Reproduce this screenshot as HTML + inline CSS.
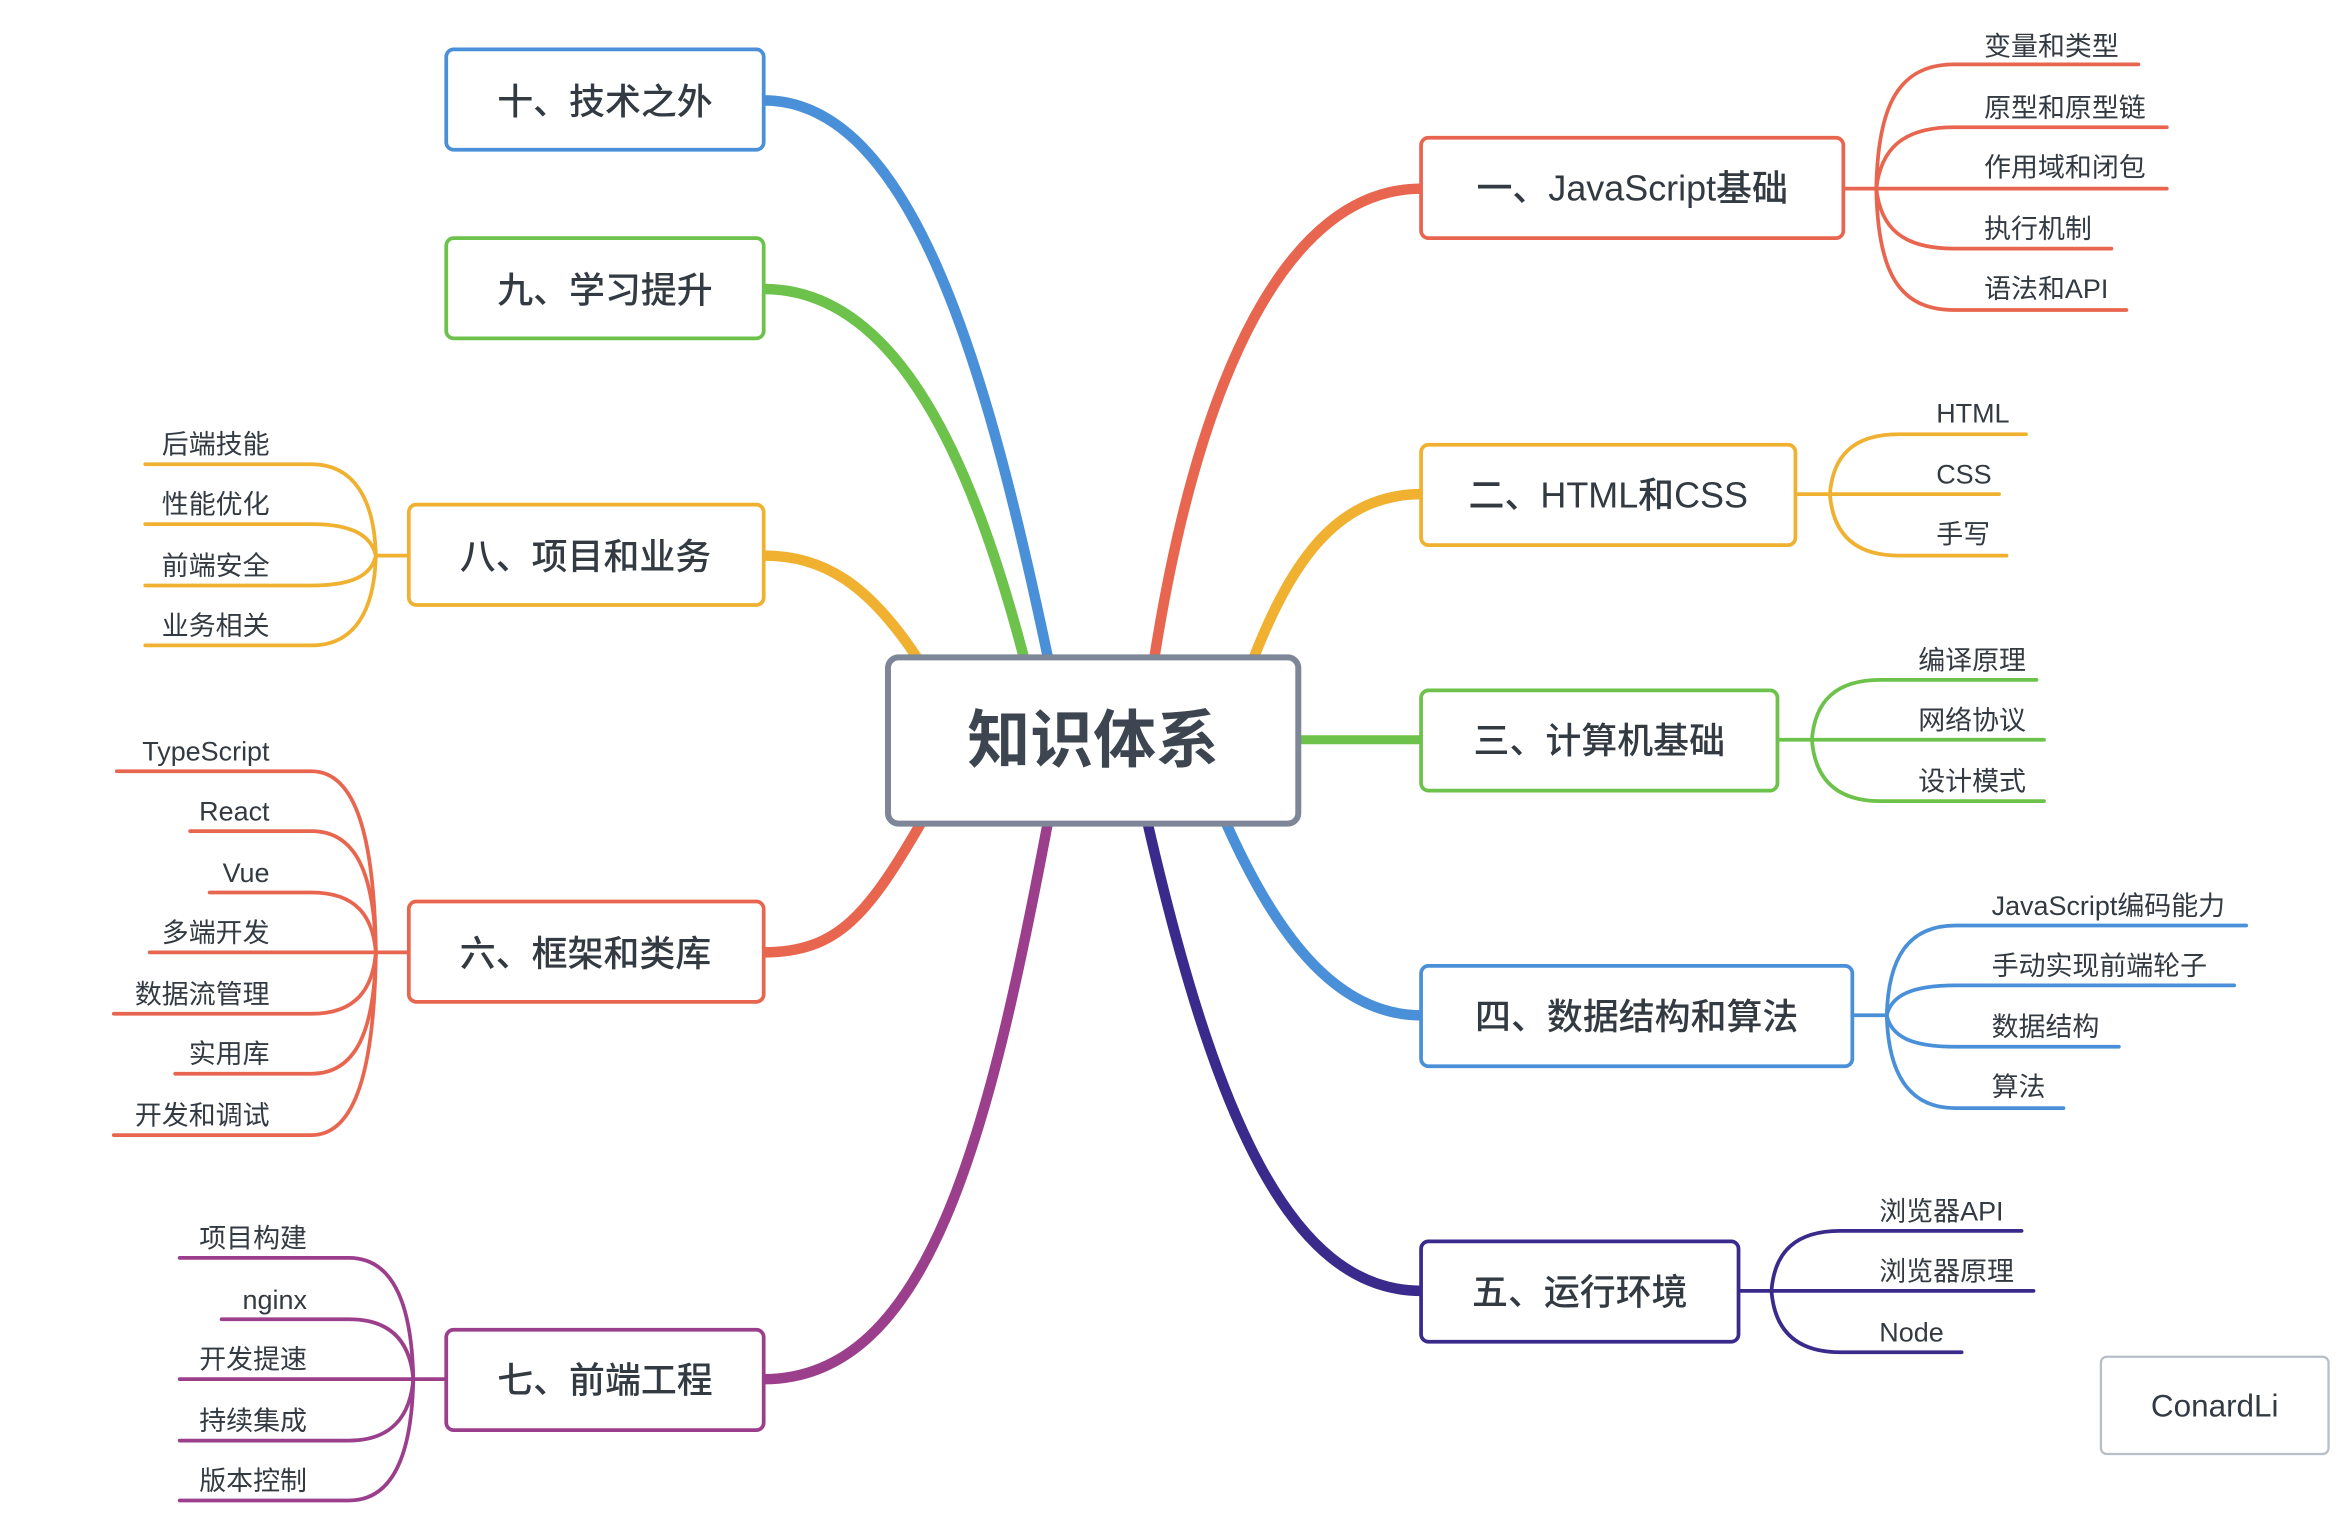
<!DOCTYPE html>
<html><head><meta charset="utf-8">
<style>
html,body{margin:0;padding:0;background:#fff;}
svg{display:block;}
text{font-family:"Liberation Sans","Noto Sans CJK SC",sans-serif;fill:#333a42;}
.sub{font-size:18px;}
.box{font-size:24px;font-weight:500;}
</style></head><body>
<svg width="2342" height="1518" viewBox="0 0 1564 1013.7" preserveAspectRatio="none" xmlns="http://www.w3.org/2000/svg">
<g fill="none" stroke-linecap="round">
<path d="M770 445 C800 250 860 126 949 126" stroke="#e8664f" stroke-width="7"/>
<path d="M835 445 C860 380 890 330 949 330" stroke="#f0b030" stroke-width="7"/>
<path d="M867 494 L949 494" stroke="#6cc24a" stroke-width="6"/>
<path d="M818 548 C850 620 890 678 949 678" stroke="#4a90d9" stroke-width="7"/>
<path d="M766 548 C810 740 860 862 949 862" stroke="#3a2a8c" stroke-width="7"/>
<path d="M616 548 C580 610 560 636 510 636" stroke="#e8664f" stroke-width="7"/>
<path d="M700 548 C660 760 620 921 510 921" stroke="#9b3f8c" stroke-width="7"/>
<path d="M613 440 C580 390 550 371 510 371" stroke="#f0b030" stroke-width="7"/>
<path d="M684 440 C650 310 600 193 510 193" stroke="#6cc24a" stroke-width="7"/>
<path d="M700 440 C660 250 610 67 510 67" stroke="#4a90d9" stroke-width="7"/>

<g stroke="#e8664f" stroke-width="2.5">
<path d="M1231 126 L1253 126"/>
<path d="M1253 126 C1254 70 1268 43 1305 43 L1428 43"/>
<path d="M1253 126 C1256 100 1270 85 1305 85 L1447 85"/>
<path d="M1253 126 L1447 126"/>
<path d="M1253 126 C1256 152 1270 166 1305 166 L1410 166"/>
<path d="M1253 126 C1254 182 1268 207 1305 207 L1420 207"/>
</g>
<g stroke="#f0b030" stroke-width="2.5">
<path d="M1199 330 L1222 330"/>
<path d="M1222 330 C1224 304 1238 290 1268 290 L1353 290"/>
<path d="M1222 330 L1335 330"/>
<path d="M1222 330 C1224 356 1238 371 1268 371 L1340 371"/>
</g>
<g stroke="#6cc24a" stroke-width="2.5">
<path d="M1187 494 L1210 494"/>
<path d="M1210 494 C1212 468 1226 454 1256 454 L1360 454"/>
<path d="M1210 494 L1365 494"/>
<path d="M1210 494 C1212 520 1226 535 1256 535 L1365 535"/>
</g>
<g stroke="#4a90d9" stroke-width="2.5">
<path d="M1237 678 L1260 678"/>
<path d="M1260 678 C1261 640 1274 618 1306 618 L1500 618"/>
<path d="M1260 678 C1263 665 1276 658 1306 658 L1492 658"/>
<path d="M1260 678 C1263 692 1276 699 1306 699 L1415 699"/>
<path d="M1260 678 C1261 716 1274 740 1306 740 L1378 740"/>
</g>
<g stroke="#3a2a8c" stroke-width="2.5">
<path d="M1161 862 L1183 862"/>
<path d="M1183 862 C1185 836 1199 822 1229 822 L1350 822"/>
<path d="M1183 862 L1358 862"/>
<path d="M1183 862 C1185 888 1199 903 1229 903 L1310 903"/>
</g>
<g stroke="#f0b030" stroke-width="2.5">
<path d="M273 371 L251 371"/>
<path d="M251 371 C250 333 236 310 208 310 L97 310"/>
<path d="M251 371 C248 358 236 350 208 350 L97 350"/>
<path d="M251 371 C248 384 236 391 208 391 L97 391"/>
<path d="M251 371 C250 409 236 431 208 431 L97 431"/>
</g>
<g stroke="#e8664f" stroke-width="2.5">
<path d="M273 636 L251 636"/>
<path d="M251 636 C250 560 238 515 208 515 L78 515"/>
<path d="M251 636 C250 584 238 555 208 555 L127 555"/>
<path d="M251 636 C249 612 238 596 208 596 L140 596"/>
<path d="M251 636 L100 636"/>
<path d="M251 636 C249 660 238 677 208 677 L76 677"/>
<path d="M251 636 C250 688 238 717 208 717 L117 717"/>
<path d="M251 636 C250 712 238 758 208 758 L76 758"/>
</g>
<g stroke="#9b3f8c" stroke-width="2.5">
<path d="M298 921 L276 921"/>
<path d="M276 921 C275 870 262 840 233 840 L120 840"/>
<path d="M276 921 C274 897 262 881 233 881 L148 881"/>
<path d="M276 921 L120 921"/>
<path d="M276 921 C274 945 262 962 233 962 L120 962"/>
<path d="M276 921 C275 972 262 1002 233 1002 L120 1002"/>
</g>

<rect x="593" y="439" width="274" height="111" rx="7" fill="#fff" stroke="#7d8797" stroke-width="4"/>
<g fill="#fff" stroke-width="2.5">
<rect x="949" y="92" width="282" height="67" rx="5" stroke="#e8664f"/>
<rect x="949" y="297" width="250" height="67" rx="5" stroke="#f0b030"/>
<rect x="949" y="461" width="238" height="67" rx="5" stroke="#6cc24a"/>
<rect x="949" y="645" width="288" height="67" rx="5" stroke="#4a90d9"/>
<rect x="949" y="829" width="212" height="67" rx="5" stroke="#3a2a8c"/>
<rect x="273" y="602" width="237" height="67" rx="5" stroke="#e8664f"/>
<rect x="298" y="888" width="212" height="67" rx="5" stroke="#9b3f8c"/>
<rect x="273" y="337" width="237" height="67" rx="5" stroke="#f0b030"/>
<rect x="298" y="159" width="212" height="67" rx="5" stroke="#6cc24a"/>
<rect x="298" y="33" width="212" height="67" rx="5" stroke="#4a90d9"/>
<rect x="1403" y="906" width="152" height="65" rx="4" stroke="#b8bec6" stroke-width="1.5"/>
</g>
</g>

<text x="730" y="509" text-anchor="middle" style="font-size:42px;font-weight:700;fill:#3c4550">知识体系</text>
<g class="box" text-anchor="middle">
<text x="1090" y="134">一、JavaScript基础</text>
<text x="1074" y="339">二、HTML和CSS</text>
<text x="1068" y="503">三、计算机基础</text>
<text x="1093" y="687">四、数据结构和算法</text>
<text x="1055" y="871">五、运行环境</text>
<text x="391" y="645">六、框架和类库</text>
<text x="404" y="930">七、前端工程</text>
<text x="391" y="380">八、项目和业务</text>
<text x="404" y="202">九、学习提升</text>
<text x="404" y="76">十、技术之外</text>
</g>
<text x="1479" y="946" text-anchor="middle" style="font-size:21px">ConardLi</text>

<g class="sub">
<text x="1325" y="37">变量和类型</text>
<text x="1325" y="78">原型和原型链</text>
<text x="1325" y="118">作用域和闭包</text>
<text x="1325" y="159">执行机制</text>
<text x="1325" y="199">语法和API</text>
<text x="1293" y="282">HTML</text>
<text x="1293" y="323">CSS</text>
<text x="1293" y="363">手写</text>
<text x="1281" y="447">编译原理</text>
<text x="1281" y="487">网络协议</text>
<text x="1281" y="528">设计模式</text>
<text x="1330" y="611">JavaScript编码能力</text>
<text x="1330" y="651">手动实现前端轮子</text>
<text x="1330" y="692">数据结构</text>
<text x="1330" y="732">算法</text>
<text x="1255" y="815">浏览器API</text>
<text x="1255" y="855">浏览器原理</text>
<text x="1255" y="896">Node</text>
</g>
<g class="sub" text-anchor="end">
<text x="180" y="303">后端技能</text>
<text x="180" y="343">性能优化</text>
<text x="180" y="384">前端安全</text>
<text x="180" y="424">业务相关</text>
<text x="180" y="508">TypeScript</text>
<text x="180" y="548">React</text>
<text x="180" y="589">Vue</text>
<text x="180" y="629">多端开发</text>
<text x="180" y="670">数据流管理</text>
<text x="180" y="710">实用库</text>
<text x="180" y="751">开发和调试</text>
<text x="205" y="833">项目构建</text>
<text x="205" y="874">nginx</text>
<text x="205" y="914">开发提速</text>
<text x="205" y="955">持续集成</text>
<text x="205" y="995">版本控制</text>
</g>
</svg>
</body></html>
